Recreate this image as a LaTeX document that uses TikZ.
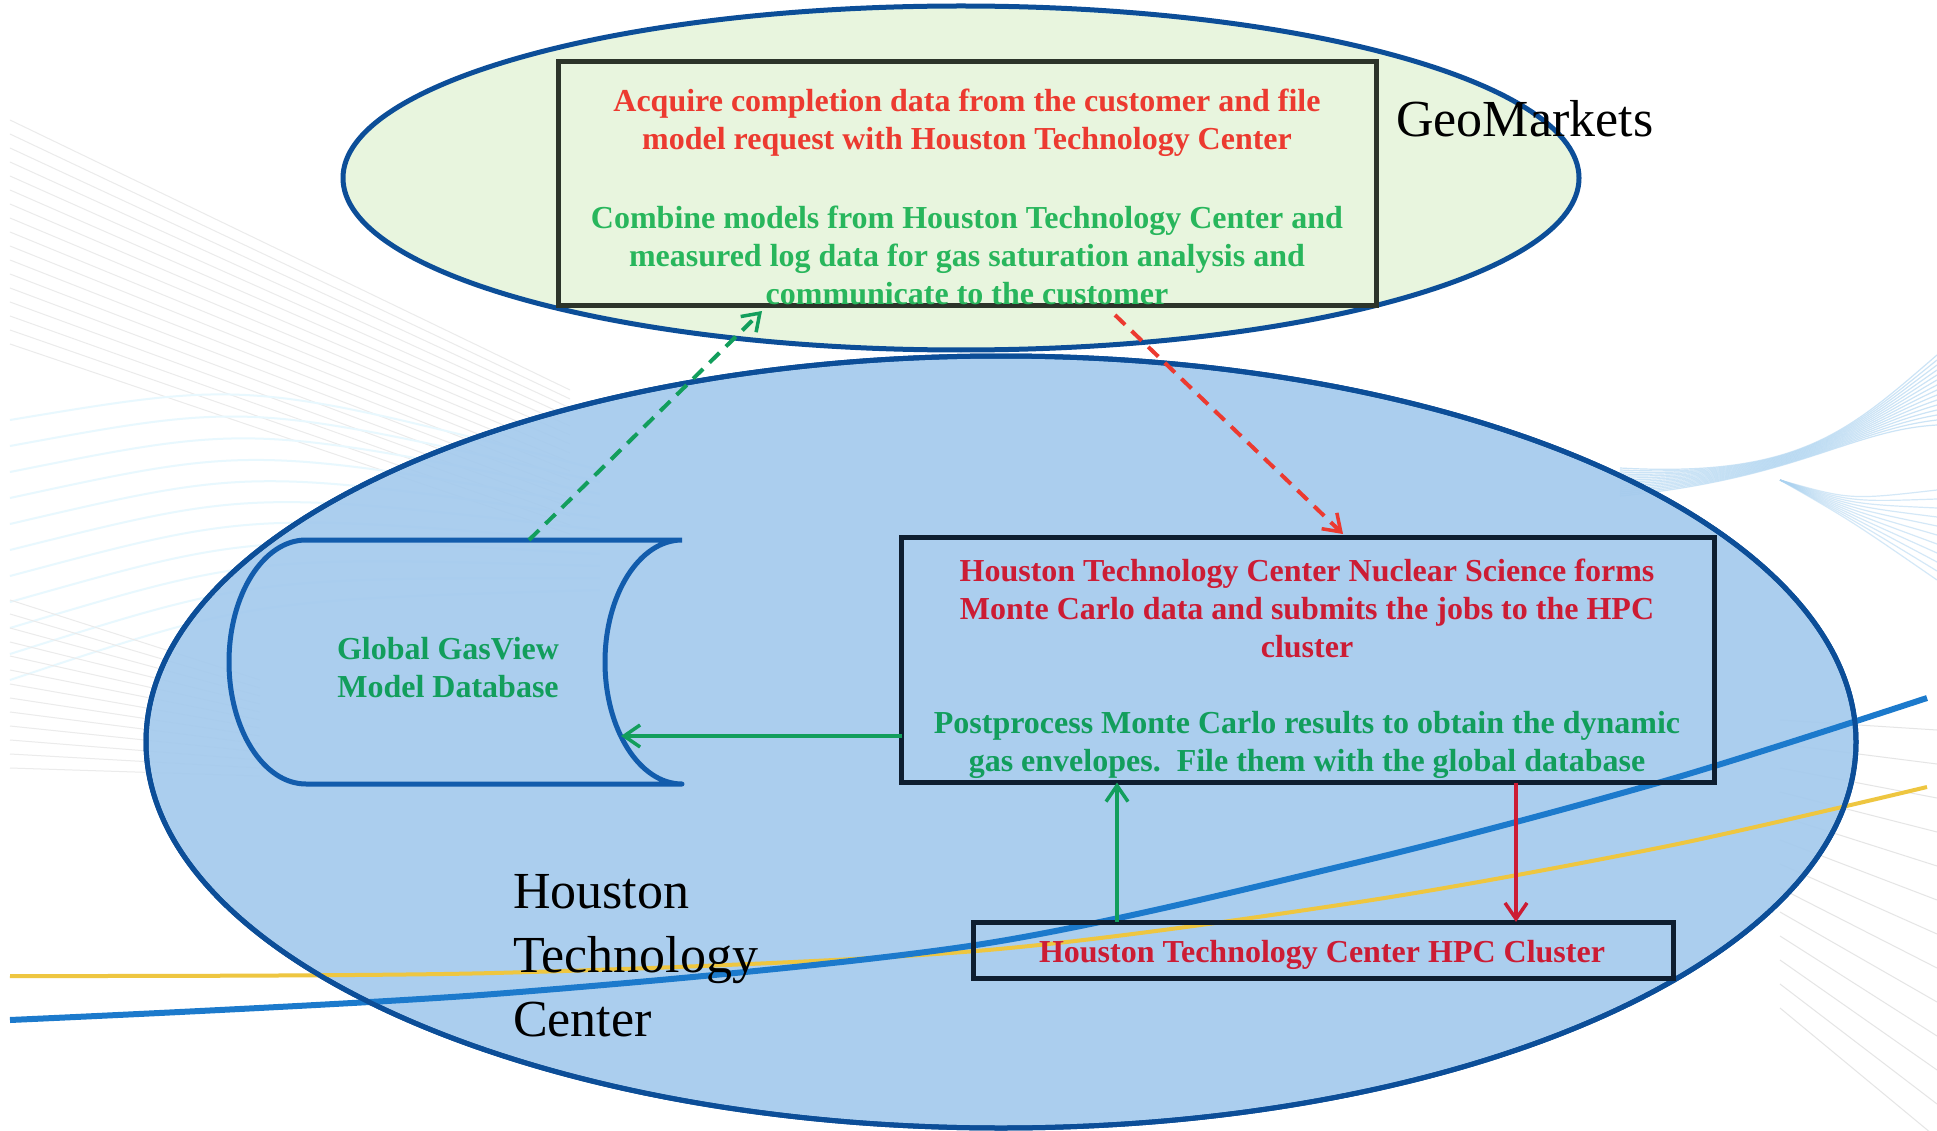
\documentclass[tikz,border=0pt]{standalone}
\usepackage{fontspec}
\setmainfont{Liberation Serif}
\usetikzlibrary{shapes.geometric,arrows.meta}
\definecolor{ellborder}{RGB}{12,78,152}
\definecolor{bluefill}{RGB}{164,202,237}
\definecolor{greenfill}{RGB}{232,245,222}
\definecolor{boxdark}{RGB}{14,30,48}
\definecolor{boxgreen}{RGB}{44,52,42}
\definecolor{redA}{RGB}{236,58,48}
\definecolor{redB}{RGB}{204,28,52}
\definecolor{greenA}{RGB}{40,182,92}
\definecolor{greenB}{RGB}{18,158,92}
\definecolor{cylblue}{RGB}{18,92,172}
\definecolor{curveblue}{RGB}{28,122,204}
\definecolor{curveyellow}{RGB}{238,198,64}
\definecolor{swoosh}{RGB}{170,210,240}
\tikzset{
  region/.style={ellipse, draw=ellborder, line width=5pt, inner sep=0pt, outer sep=0pt},
  procbox/.style={draw=boxdark, line width=5pt, inner sep=0pt, outer sep=0pt},
  btext/.style={align=center, font=\bfseries\fontsize{32}{38}\selectfont, inner sep=0pt},
  bigtext/.style={font=\fontsize{52}{64}\selectfont, inner sep=0pt},
  flow/.style={line width=3.5pt, -{Straight Barb[length=16pt,width=22pt,line width=3.5pt]}},
  dflow/.style={flow, line width=4pt, dash pattern=on 14pt off 9pt}
}
\begin{document}
\begin{tikzpicture}[x=1pt,y=-1pt]
\useasboundingbox (0,0) rectangle (1937,1131);
\fill[white] (0,0) rectangle (1937,1131);
% faint background lines
\foreach \i in {0,...,16} \draw[black!8, line width=1pt] (10,120+14*\i) -- (570,390+9*\i);
\foreach \i in {0,...,10} \draw[cyan!9, line width=2pt] (10,420+26*\i) .. controls (250,380+22*\i) .. (600,470+12*\i);
\foreach \i in {0,...,12} \draw[black!8, line width=1pt] (10,600+14*\i) -- (260,680+8*\i);
\foreach \i in {0,...,14} \draw[swoosh, opacity=0.6, line width=1.2pt] (1937,355+5*\i) .. controls (1850,430) and (1800,478) .. (1620,468+2*\i);
\foreach \i in {0,...,10} \draw[swoosh, opacity=0.5, line width=1.2pt] (1780,480) .. controls (1850,500+2*\i) .. (1937,490+9*\i);
\foreach \i in {0,...,12} \draw[black!10, line width=1pt] (1780,720+24*\i) -- (1937,730+34*\i);
% regions
\node[region, fill=greenfill, minimum width=1236pt, minimum height=344pt] (geo) at (961,178) {};
\node[region, fill=bluefill, fill opacity=0.92, draw opacity=1, minimum width=1710pt, minimum height=772pt] (htc) at (1001,742) {};
% curves
\draw[curveyellow, line width=4pt] plot[smooth] coordinates {(10,976) (494,973) (976,951) (1359,902) (1668,846) (1927,787)};
\draw[curveblue, line width=6pt] plot[smooth] coordinates {(10,1020) (494,994) (976,945) (1359,862) (1668,780) (1927,698)};
\node[region, draw=ellborder, minimum width=1710pt, minimum height=772pt] (htcb) at (1001,742) {};
% boxes
\node[procbox, draw=boxgreen, minimum width=818pt, minimum height=244pt] (topbox) at (967,184) {};
\node[procbox, minimum width=813pt, minimum height=245pt] (midbox) at (1308,660) {};
\node[procbox, minimum width=700pt, minimum height=56pt] (hpc) at (1323,950) {};
% database cylinder
\draw[cylblue, line width=5pt, line join=round]
  (682,540) -- (306,540) .. controls (263.5,540) and (229,594.6) .. (229,662)
  .. controls (229,729.4) and (263.5,784) .. (306,784) -- (682,784)
  .. controls (639.5,784) and (605,729.4) .. (605,662)
  .. controls (605,594.6) and (639.5,540) .. (682,540);
\coordinate (dbtop) at (529,540);
\coordinate (dbin) at (621,736);
\node[btext, text=greenB] (dbtext) at (448,668) {Global GasView\\Model Database};
% texts
\node[btext, text=redA] (t1) at (967,123) {Acquire completion data from the customer and file\\model request with Houston Technology Center};
\node[btext, text=greenA] (t2) at (967,255) {Combine models from Houston Technology Center and\\measured log data for gas saturation analysis and\\communicate to the customer};
\node[btext, text=redB] (m1) at (1307,608) {Houston Technology Center Nuclear Science forms\\Monte Carlo data and submits the jobs to the HPC\\cluster};
\node[btext, text=greenB] (m2) at (1307,745) {Postprocess Monte Carlo results to obtain the dynamic\\gas envelopes.\ \ File them with the global database};
\node[btext, text=redB] (hpct) at (1322,955) {Houston Technology Center HPC Cluster};
\node[bigtext, anchor=west] (geol) at (1396,119) {GeoMarkets};
\node[bigtext, anchor=west, align=left] (htcl) at (513,956) {Houston\\Technology\\Center};
% connectors
\coordinate (gEnd) at (762,311);
\coordinate (rStart) at (1115,315);
\coordinate (rEnd) at (1343,534);
\draw[dflow, greenB] (dbtop) -- (gEnd);
\draw[dflow, redA] (rStart) -- (rEnd);
\draw[flow, greenB] (midbox.west |- dbin) -- (dbin);
\draw[flow, greenB] (hpc.north -| 1117,0) -- (midbox.south -| 1117,0);
\draw[flow, redB] (midbox.south -| 1516,0) -- (hpc.north -| 1516,0);
\end{tikzpicture}
\end{document}
